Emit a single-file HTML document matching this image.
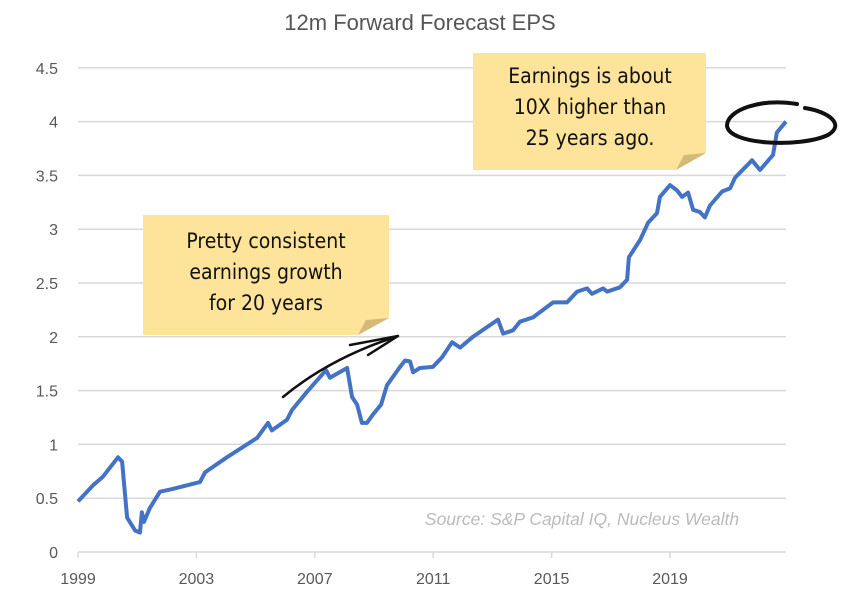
<!DOCTYPE html>
<html><head><meta charset="utf-8">
<style>
body{margin:0;background:#fff;}
svg{display:block;font-family:"Liberation Sans",sans-serif;}
.hand{font-family:"DejaVu Sans Condensed","DejaVu Sans",sans-serif;font-size:21px;fill:#111;}
</style></head>
<body>
<svg id="chart" width="841" height="601" viewBox="0 0 841 601">
<text x="420" y="30" text-anchor="middle" font-size="22" fill="#555">12m Forward Forecast EPS</text>
<g id="grid"></g>
<g id="yaxis"></g>
<g id="xaxis"></g>
<path id="line" fill="none" stroke="#4472C4" stroke-width="4" stroke-linejoin="round"/>
<text x="582" y="525" text-anchor="middle" font-size="17.5" font-style="italic" fill="#bbb">Source: S&amp;P Capital IQ, Nucleus Wealth</text>
<g>
<path d="M143,215 H389 V318 L358,335 H143 Z" fill="#FDE49A"/>
<path d="M358,335 L389,318 L366,320 Z" fill="#D4B97A"/>
<text class="hand" x="266" y="248" text-anchor="middle">Pretty consistent</text>
<text class="hand" x="266" y="279" text-anchor="middle">earnings growth</text>
<text class="hand" x="266" y="310" text-anchor="middle">for 20 years</text>
</g>
<g>
<path d="M473,53 H706 V153 L676,170 H473 Z" fill="#FDE49A"/>
<path d="M676,170 L706,153 L684,155 Z" fill="#D4B97A"/>
<text class="hand" x="590" y="83" text-anchor="middle">Earnings is about</text>
<text class="hand" x="590" y="114" text-anchor="middle">10X higher than</text>
<text class="hand" x="590" y="145" text-anchor="middle">25 years ago.</text>
</g>
<g fill="none" stroke="#111" stroke-width="2.5" stroke-linecap="round">
<path d="M283,397 Q330,358 398,336"/>
<path d="M350,345 L398,336 L368,355"/>
</g>
<path d="M797,104 C760,98 728,110 727,125 C727,145 800,148 828,135 C845,125 830,112 805,108" fill="none" stroke="#111" stroke-width="4" stroke-linecap="round"/>
</svg>
<script>
const years=[1999.00,1999.51,1999.84,2000.35,2000.49,2000.66,2000.93,2001.09,2001.16,2001.23,2001.43,2001.77,2002.11,2003.12,2003.29,2004.03,2005.05,2005.42,2005.55,2006.06,2006.23,2006.74,2007.38,2007.51,2008.09,2008.26,2008.43,2008.59,2008.76,2008.97,2009.24,2009.44,2009.88,2010.05,2010.22,2010.32,2010.55,2010.99,2011.30,2011.64,2011.91,2012.34,2013.19,2013.36,2013.70,2013.93,2014.37,2015.05,2015.52,2015.86,2016.20,2016.36,2016.74,2016.87,2017.31,2017.55,2017.61,2017.99,2018.26,2018.56,2018.66,2019.00,2019.24,2019.41,2019.61,2019.78,2020.01,2020.18,2020.35,2020.76,2021.03,2021.20,2021.77,2022.04,2022.48,2022.61,2022.92];
const eps=[0.47,0.62,0.70,0.88,0.84,0.32,0.20,0.18,0.37,0.28,0.41,0.56,0.58,0.65,0.74,0.88,1.06,1.20,1.13,1.23,1.32,1.49,1.69,1.62,1.71,1.44,1.37,1.20,1.20,1.28,1.37,1.55,1.72,1.78,1.77,1.67,1.71,1.72,1.81,1.95,1.90,2.00,2.16,2.03,2.06,2.14,2.18,2.32,2.32,2.42,2.45,2.40,2.45,2.42,2.46,2.53,2.74,2.90,3.06,3.15,3.30,3.41,3.36,3.30,3.34,3.18,3.16,3.11,3.22,3.35,3.38,3.48,3.64,3.55,3.69,3.90,4.00];
const yTicks=[0,0.5,1,1.5,2,2.5,3,3.5,4,4.5];
const yTickLabels=["0","0.5","1","1.5","2","2.5","3","3.5","4","4.5"];
const xTicks=[1999,2003,2007,2011,2015,2019];
const xTickLabels=["1999","2003","2007","2011","2015","2019"];
const X=y=>78+(y-1999)*29.6;
const Y=v=>552-v*107.6;
const NS="http://www.w3.org/2000/svg";
const grid=document.getElementById('grid'),ya=document.getElementById('yaxis'),xa=document.getElementById('xaxis');
yTicks.forEach((t,i)=>{
  if(t>0){const l=document.createElementNS(NS,'line');
  l.setAttribute('x1',78);l.setAttribute('x2',786);l.setAttribute('y1',Y(t));l.setAttribute('y2',Y(t));
  l.setAttribute('stroke','#d9d9d9');l.setAttribute('stroke-width','1.5');
  
  
  grid.appendChild(l);}
  const tx=document.createElementNS(NS,'text');
  tx.setAttribute('x',58);tx.setAttribute('y',Y(t)+6);tx.setAttribute('text-anchor','end');
  tx.setAttribute('font-size','16');tx.setAttribute('fill','#595959');
  tx.textContent=yTickLabels[i];
  
  
  ya.appendChild(tx);
});
const ax=document.createElementNS(NS,'line');
ax.setAttribute('x1',78);ax.setAttribute('x2',786);ax.setAttribute('y1',552);ax.setAttribute('y2',552);
ax.setAttribute('stroke','#d9d9d9');ax.setAttribute('stroke-width','1.5');


xa.appendChild(ax);
xTicks.forEach((t,i)=>{
  const tk=document.createElementNS(NS,'line');
  tk.setAttribute('x1',X(t));tk.setAttribute('x2',X(t));tk.setAttribute('y1',552);tk.setAttribute('y2',558);
  tk.setAttribute('stroke','#d9d9d9');tk.setAttribute('stroke-width','1.5');
  
  
  xa.appendChild(tk);
  const tx=document.createElementNS(NS,'text');
  tx.setAttribute('x',X(t));tx.setAttribute('y',584);tx.setAttribute('text-anchor','middle');
  tx.setAttribute('font-size','16');tx.setAttribute('fill','#595959');
  tx.textContent=xTickLabels[i];
  
  
  xa.appendChild(tx);
});
document.getElementById('line').setAttribute('d',years.map((y,i)=>(i?'L':'M')+X(y).toFixed(1)+','+Y(eps[i]).toFixed(1)).join(' '));
</script>
</body></html>
